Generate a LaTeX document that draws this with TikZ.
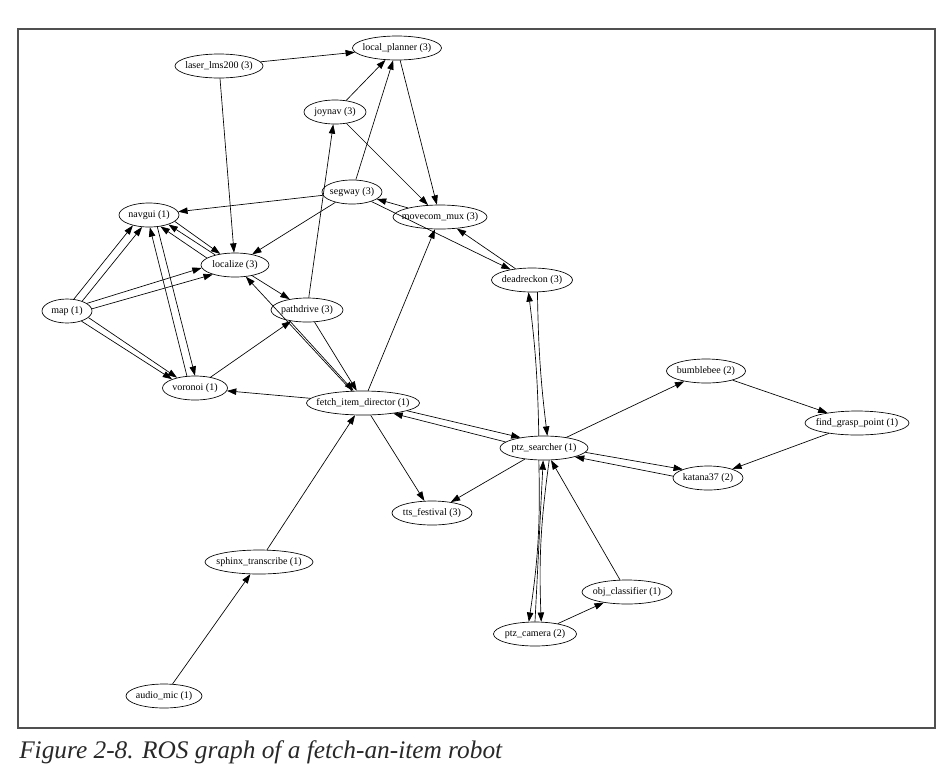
\documentclass[tikz,border=0pt]{standalone}
\usepackage{fontspec}
\setmainfont{Liberation Serif}
\usetikzlibrary{shapes.geometric}
\usetikzlibrary{arrows.meta}
\usepackage{xcolor}

\tikzset{
  rosnode/.style={draw, ellipse, line width=0.5pt, inner xsep=-40pt, inner ysep=-10pt,
    minimum width=#1, minimum height=18pt, font=\fontsize{7.5}{9}\selectfont},
  topic/.style={line width=0.5pt, -{Triangle[length=7pt,width=4.8pt]}},
  frame/.style={line width=0.9pt, draw={rgb,255:red,80;green,80;blue,80}},
}

\begin{document}
\begin{tikzpicture}[x=0.75pt,y=0.75pt,yscale=-1,xscale=1]
\useasboundingbox (0,0) rectangle (948,779);

%Shape: Frame
\draw [frame] (18,29) rectangle (935,728);

% Nodes
\node [rosnode=66.75pt] (lplanner) at (397,48) {local\_planner (3)};
\node [rosnode=66pt] (laser) at (219,66) {laser\_lms200 (3)};
\node [rosnode=46.5pt] (joynav) at (335,112) {joynav (3)};
\node [rosnode=45pt] (segway) at (352,192) {segway (3)};
\node [rosnode=45pt] (navgui) at (149,215) {navgui (1)};
\node [rosnode=70.5pt] (movecom) at (440,217) {movecom\_mux (3)};
\node [rosnode=51pt] (localize) at (235,265) {localize (3)};
\node [rosnode=60.75pt] (deadreckon) at (532,280) {deadreckon (3)};
\node [rosnode=37.5pt] (map) at (67,311) {map (1)};
\node [rosnode=54pt] (pathdrive) at (307,310) {pathdrive (3)};
\node [rosnode=48.75pt] (voronoi) at (195,388) {voronoi (1)};
\node [rosnode=59.25pt] (bumblebee) at (706,371) {bumblebee (2)};
\node [rosnode=84.75pt] (fetch) at (363,403) {fetch\_item\_director (1)};
\node [rosnode=78pt] (grasp) at (857,423) {find\_grasp\_point (1)};
\node [rosnode=66pt] (searcher) at (544,448) {ptz\_searcher (1)};
\node [rosnode=52.5pt] (katana) at (708,478) {katana37 (2)};
\node [rosnode=60pt] (tts) at (432,513) {tts\_festival (3)};
\node [rosnode=81pt] (sphinx) at (259,562) {sphinx\_transcribe (1)};
\node [rosnode=67.5pt] (objclass) at (627,592) {obj\_classifier (1)};
\node [rosnode=62.25pt] (camera) at (535,634) {ptz\_camera (2)};
\node [rosnode=57pt] (mic) at (164,696) {audio\_mic (1)};

%Edges: planner side
\draw [topic] (laser) -- (lplanner);
\draw [topic] (laser) -- (localize);
\draw [topic] (joynav) -- (lplanner);
\draw [topic] (segway) -- (lplanner);
\draw [topic] (joynav) -- (movecom);
\draw [topic] (lplanner) -- (movecom);
\draw [topic] (pathdrive) -- (joynav);
\draw [topic] (movecom) -- (segway);
\draw [topic] (segway) -- (deadreckon);
\draw [topic] (deadreckon) -- (movecom);
\draw [topic] (segway) -- (navgui);
\draw [topic] (segway) -- (localize);

%Edges: map and navgui
\draw [topic] (map.60) -- (navgui.213);
\draw [topic] (map.33) -- (navgui.240);
\draw [topic] (map.21) -- (localize.185);
\draw [topic] (map.5) -- (localize.203);
\draw [topic] (map.325) -- (voronoi.159);
\draw [topic] (map.343) -- (voronoi.150);
\draw [topic] (voronoi.124) -- (navgui.274);
\draw [topic] (navgui.305) -- (voronoi.90);
\draw [topic] (localize.166) -- (navgui.315);
\draw [topic] (localize.153) -- (navgui.334);
\draw [topic] (navgui.346) -- (localize.143);

%Edges: localize, pathdrive, fetch_item_director
\draw [topic] (localize) -- (pathdrive);
\draw [topic] (fetch) -- (localize);
\draw [topic] (pathdrive.212) -- (fetch.128);
\draw [topic] (pathdrive.302) -- (fetch.117);
\draw [topic] (voronoi) -- (pathdrive);
\draw [topic] (fetch) -- (voronoi);
\draw [topic] (fetch) -- (movecom);
\draw [topic] (fetch) -- (tts);
\draw [topic] (fetch.350) -- (searcher.156);
\draw [topic] (searcher.171) -- (fetch.341);
\draw [topic] (sphinx) -- (fetch);
\draw [topic] (mic) -- (sphinx);

%Edges: ptz_searcher
\draw [topic] (searcher) -- (tts);
\draw [topic] (searcher.113) to [bend left=3] (deadreckon.254);
\draw [topic] (deadreckon.294) to [bend left=3] (searcher.75);
\draw [topic] (searcher) -- (bumblebee);
\draw [topic] (bumblebee) -- (grasp);
\draw [topic] (grasp) -- (katana);
\draw [topic] (searcher.354) -- (katana.161);
\draw [topic] (katana.177) -- (searcher.344);
\draw [topic] (searcher.247) to [bend right=5] (camera.117);
\draw [topic] (camera.90) -- (searcher.266);
\draw [topic] (searcher.293) to [bend left=5] (camera.63);
\draw [topic] (camera) -- (objclass);
\draw [topic] (objclass) -- (searcher);

% Text Node
\node [anchor=base west, inner sep=0pt, color={rgb,255:red,40;green,40;blue,40},
  font=\fontsize{19}{22}\selectfont\itshape] (caption) at (19,758)
  {Figure 2-8. ROS graph of a fetch-an-item robot};

\end{tikzpicture}
\end{document}
